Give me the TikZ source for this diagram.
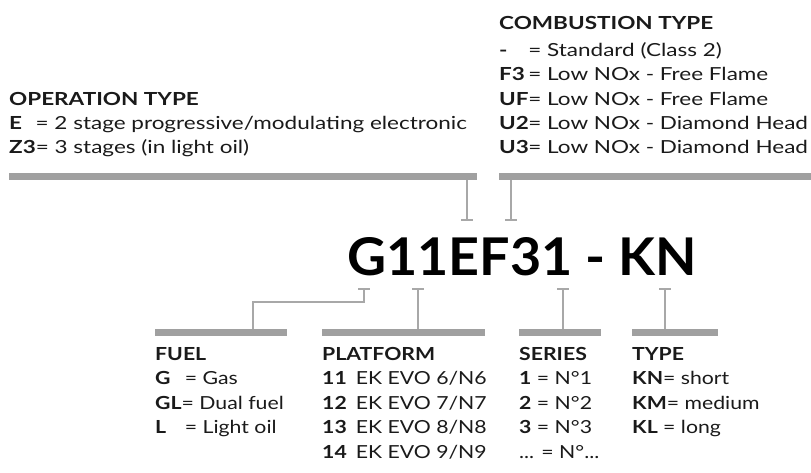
\documentclass[tikz,border=0pt]{standalone}
\usepackage{fontspec}
\usepackage{graphicx}
\setmainfont{Lato}[FakeStretch=1.25]
\newfontfamily\codefont{Lato}
\newfontfamily\botfont{Lato}[FakeStretch=1.18]
\definecolor{barc}{HTML}{A0A0A0}
\definecolor{linec}{HTML}{A8A8A8}
\definecolor{txtc}{HTML}{1A1A1A}
\begin{document}
\begin{tikzpicture}[x=1pt,y=-1pt,
  bar/.style={fill=barc, draw=none, inner sep=0pt, minimum height=7pt, anchor=north west},
  lbl/.style={anchor=base west, inner sep=0pt, text=txtc, font=\fontsize{18}{20}\selectfont},
  ttl/.style={lbl, font=\fontsize{18}{20}\selectfont\bfseries},
  blbl/.style={lbl, font=\botfont\fontsize{18}{20}\selectfont},
  bttl/.style={lbl, font=\botfont\fontsize{18}{20}\selectfont\bfseries},
  conn/.style={draw=linec, line width=2.2pt},
  tickm/.style={draw=linec, line width=2.4pt}]
\useasboundingbox (0,0) rectangle (811,472);
\newcommand{\kbox}[2]{\makebox[#1][l]{\textbf{#2}}}
% ---- top bars
\node[bar, minimum width=468pt] (opbar) at (9,173) {};
\node[bar, minimum width=312pt] (cobar) at (499,173) {};
% ---- title code
\node[anchor=base west, inner sep=0pt] (code) at (347,275) {\resizebox{350pt}{38pt}{\codefont\bfseries G11EF31 - KN}};
% ---- top connectors
\coordinate (tE) at (467,220);
\coordinate (tF) at (511,220);
\draw[conn] (opbar.south -| tE) -- (tE);
\draw[conn] (cobar.south -| tF) -- (tF);
\draw[tickm] ([xshift=-6pt]tE) -- ([xshift=6pt]tE);
\draw[tickm] ([xshift=-6pt]tF) -- ([xshift=6pt]tF);
% ---- bottom bars
\node[bar, minimum width=132pt] (fubar) at (155,329) {};
\node[bar, minimum width=163pt] (plbar) at (322,329) {};
\node[bar, minimum width=82pt] (sebar) at (519,329) {};
\node[bar, minimum width=86pt] (tybar) at (632,329) {};
% ---- bottom connectors
\coordinate (bG) at (364,289);
\coordinate (bP) at (418,289);
\coordinate (bS) at (563,289);
\coordinate (bT) at (665,289);
\coordinate (gel) at (253,302);
\draw[conn] (bG) -- (bG |- gel) -- (gel) -- (gel |- fubar.north);
\draw[conn] (bP) -- (bP |- plbar.north);
\draw[conn] (bS) -- (bS |- sebar.north);
\draw[conn] (bT) -- (bT |- tybar.north);
\foreach \t in {bG,bP,bS,bT}
  \draw[tickm] ([xshift=-6pt]\t) -- ([xshift=6pt]\t);
% ---- operation type
\node[ttl] (opt) at (9,105) {OPERATION TYPE};
\node[lbl] (op1) at (9,129) {\textbf{E}\hspace{0.75em}= 2 stage progressive/modulating electronic};
\node[lbl] (op2) at (9,153) {\textbf{Z3}= 3 stages (in light oil)};
% ---- combustion type
\node[ttl] (cot) at (499,29) {COMBUSTION TYPE};
\node[lbl] (co1) at (499,56) {\kbox{1.62em}{-}= Standard (Class 2)};
\node[lbl] (co2) at (499,80) {\kbox{1.62em}{F3}= Low NOx - Free Flame};
\node[lbl] (co3) at (499,105) {\kbox{1.62em}{UF}= Low NOx - Free Flame};
\node[lbl] (co4) at (499,129) {\kbox{1.62em}{U2}= Low NOx - Diamond Head};
\node[lbl] (co5) at (499,153) {\kbox{1.62em}{U3}= Low NOx - Diamond Head};
% ---- fuel
\node[bttl] (fut) at (155,360) {FUEL};
\node[blbl] (fu1) at (155,384.5) {\kbox{1.65em}{G}= Gas};
\node[blbl] (fu2) at (155,409) {\textbf{GL}= Dual fuel};
\node[blbl] (fu3) at (155,433.5) {\kbox{1.65em}{L}= Light oil};
% ---- platform
\node[bttl] (plt) at (322,360) {PLATFORM};
\node[blbl] (pl1) at (322,384.5) {\textbf{11}\hspace{0.5em}EK EVO 6/N6};
\node[blbl] (pl2) at (322,409) {\textbf{12}\hspace{0.5em}EK EVO 7/N7};
\node[blbl] (pl3) at (322,433.5) {\textbf{13}\hspace{0.5em}EK EVO 8/N8};
\node[blbl] (pl4) at (322,458) {\textbf{14}\hspace{0.5em}EK EVO 9/N9};
% ---- series
\node[bttl] (set) at (519,360) {SERIES};
\node[blbl] (se1) at (519,384.5) {\textbf{1} = N°1};
\node[blbl] (se2) at (519,409) {\textbf{2} = N°2};
\node[blbl] (se3) at (519,433.5) {\textbf{3} = N°3};
\node[blbl] (se4) at (519,458) {... = N°...};
% ---- type
\node[bttl] (tyt) at (632,360) {TYPE};
\node[blbl] (ty1) at (632,384.5) {\textbf{KN}= short};
\node[blbl] (ty2) at (632,409) {\textbf{KM}= medium};
\node[blbl] (ty3) at (632,433.5) {\textbf{KL} = long};
\end{tikzpicture}
\end{document}
